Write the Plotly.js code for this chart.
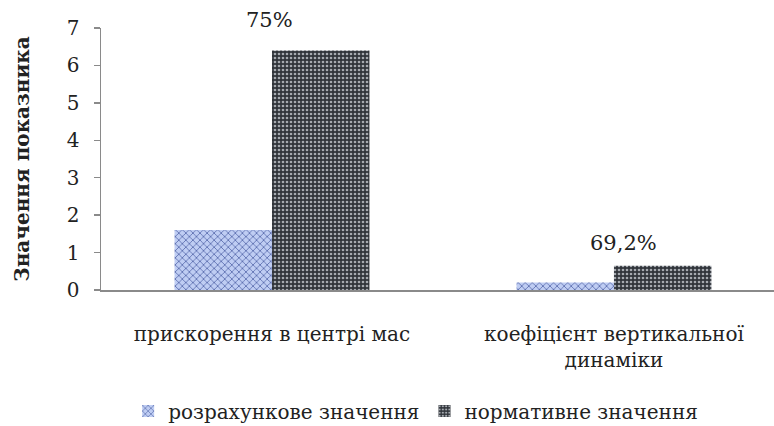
<!DOCTYPE html>
<html>
<head>
<meta charset="utf-8">
<script src="https://cdn.plot.ly/plotly-3.0.1.min.js"></script>
<style>html,body{margin:0;padding:0;background:#fff;}#chart{width:774px;height:426px;}</style>
</head>
<body>
<div id="chart"></div>
<script>
var categories = ["прискорення в центрі мас", "коефіцієнт вертикальної<br>динаміки"];
var seriesNames = ["розрахункове значення", "нормативне значення"];
var calculated = [1.6, 0.2];
var normative = [6.4, 0.65];
var diffLabels = ["75%", "69,2%"];
var yTicks = [0, 1, 2, 3, 4, 5, 6, 7];

var font = "DejaVu Serif";

var traces = [
  {
    type: "bar", name: seriesNames[0], x: categories, y: calculated,
    marker: {
      color: "#b8c8f0",
      line: {width: 0},
      pattern: {shape: "x", fgcolor: "#5a6cae", bgcolor: "#bfcdf3", size: 5, solidity: 0.3, fillmode: "replace"}
    },
    hoverinfo: "none"
  },
  {
    type: "bar", name: seriesNames[1], x: categories, y: normative,
    marker: {
      color: "#33373c",
      line: {width: 0},
      pattern: {shape: ".", fgcolor: "#a6aab0", bgcolor: "#30343a", size: 4, solidity: 0.35, fillmode: "replace"}
    },
    hoverinfo: "none"
  }
];

var shifts = [{x: -2, y: 30}, {x: 10, y: 23}];
var annotations = categories.map(function (c, i) {
  return {
    x: c, y: Math.max(calculated[i], normative[i]), xref: "x", yref: "y",
    text: diffLabels[i], showarrow: false, yanchor: "middle",
    xshift: shifts[i].x, yshift: shifts[i].y,
    font: {family: font, size: 21, color: "#222"}
  };
});

var layout = {
  width: 774, height: 426,
  margin: {l: 101, r: 0, t: 28, b: 136},
  paper_bgcolor: "#fff", plot_bgcolor: "#fff",
  barmode: "group", bargap: 0.43, bargroupgap: 0,
  font: {family: font, size: 20, color: "#222"},
  xaxis: {
    type: "category", range: [-0.5, 1.468],
    showline: true, linecolor: "#8a8a8a", linewidth: 1.5,
    ticks: "", showgrid: false, zeroline: false,
    tickfont: {family: font, size: 20, color: "#222"},
    ticklabelstandoff: 25
  },
  yaxis: {
    range: [0, 7], tickvals: yTicks,
    showline: true, linecolor: "#8a8a8a", linewidth: 1.5,
    ticks: "outside", ticklen: 6, tickcolor: "#8a8a8a", tickwidth: 1.5,
    showgrid: false, zeroline: false,
    tickfont: {family: font, size: 20, color: "#222"},
    ticklabelstandoff: 10,
    title: {text: "<b>Значення показника</b>", font: {family: font, size: 20, color: "#222"}, standoff: 32}
  },
  legend: {
    orientation: "h", xref: "container", yref: "container",
    x: 0.537, xanchor: "center", y: 0.035, yanchor: "middle",
    font: {family: font, size: 20, color: "#222"},
    itemwidth: 30, traceorder: "normal"
  },
  annotations: annotations,
  showlegend: true
};

Plotly.newPlot("chart", traces, layout, {displayModeBar: false, staticPlot: true});
</script>
</body>
</html>
